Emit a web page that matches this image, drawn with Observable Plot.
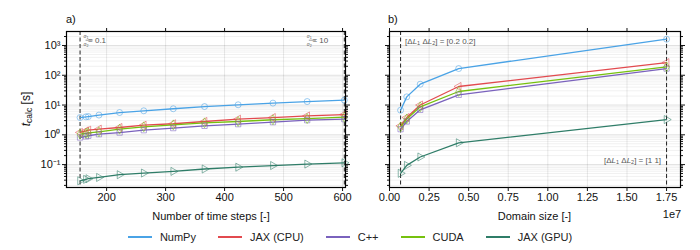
<!DOCTYPE html>
<html>
<head>
<meta charset="utf-8">
<script src="https://cdn.jsdelivr.net/npm/d3@7"></script>
<script src="https://cdn.jsdelivr.net/npm/@observablehq/plot@0.6"></script>
<style>
  html, body { margin: 0; padding: 0; background: #fff; }
  #wrap { position: relative; width: 700px; height: 250px; font-family: "Liberation Sans", Arial, sans-serif; }
  #wrap svg { position: absolute; top: 0; overflow: visible; }
  #legend { position: absolute; left: 0; top: 229px; width: 700px; display: flex; justify-content: center; gap: 22px; font-size: 11px; color: #222; line-height: 16px; }
  .item { display: flex; align-items: center; gap: 8px; }
  .sw { display: inline-block; width: 24px; height: 1.4px; }
</style>
</head>
<body>
<div id="wrap"><div id="legend"></div></div>
<script>
// ---------- data ----------
const seriesNames = ["NumPy", "JAX (CPU)", "C++", "CUDA", "JAX (GPU)"];
const seriesColors = ["#4aa3e6", "#e24a4f", "#7a62bd", "#76c10e", "#2f7d68"];
const seriesSymbols = ["circle", "triangle", "square", "diamond", "triangle"];
const seriesRotate = [0, -90, 0, 0, 90];

// panel a: number of time steps
const timeSteps = [155, 165, 169, 187, 222, 263, 313, 366, 423, 482, 540, 603];
const aNumPy   = [3.8, 4.0, 4.1, 4.6, 5.6, 6.4, 7.5, 8.9, 10.2, 11.6, 13.1, 14.6];
const aJaxCpu  = [1.2, 1.35, 1.43, 1.55, 1.76, 2.1, 2.35, 2.8, 3.35, 3.8, 4.3, 4.8];
const aCpp     = [0.81, 0.88, 0.93, 1.05, 1.19, 1.43, 1.68, 2.0, 2.28, 2.66, 3.1, 3.36];
const aCuda    = [1.05, 1.12, 1.17, 1.26, 1.55, 1.86, 2.16, 2.53, 2.8, 3.2, 3.5, 3.9];
const aJaxGpu  = [0.0286, 0.032, 0.0335, 0.037, 0.0457, 0.052, 0.059, 0.071, 0.082, 0.093, 0.104, 0.115];
const aDashes  = [155, 603];

// panel b: domain size
const domainSizes = [7.0e5, 1.09e6, 1.94e6, 4.37e6, 1.75e7];
const bNumPy   = [6.7, 18.8, 50, 168, 1630];
const bJaxCpu  = [2.0, 3.8, 10, 42, 266];
const bCpp     = [1.55, 2.8, 6.9, 22, 168];
const bCuda    = [1.86, 3.4, 8.7, 28.5, 191];
const bJaxGpu  = [0.051, 0.094, 0.18, 0.54, 3.25];
const bDashes  = [7.0e5, 1.75e7];

const aTicks = [200, 300, 400, 500, 600];
const bTicks = [0, 2.5e6, 5e6, 7.5e6, 1e7, 1.25e7, 1.5e7, 1.75e7];
const yMajor = [0.1, 1, 10, 100, 1000];
const yDomain = [0.017, 2950];

// ---------- helpers ----------
const FONT = '"Liberation Sans", Arial, sans-serif';
const sup = {"-":"⁻","0":"⁰","1":"¹","2":"²","3":"³"};
const yFmt = d => "10" + String(Math.round(Math.log10(d))).split("").map(c => sup[c]).join("");
const yMinor = [];
for (let e = -2; e <= 3; e++) for (let k = 2; k <= 9; k++) {
  const v = k * Math.pow(10, e);
  if (v > yDomain[0] && v < yDomain[1]) yMinor.push(v);
}
function rows(xs, arrays) {
  return arrays.flatMap((vals, i) => xs.map((x, j) => ({name: seriesNames[i], x, y: vals[j], rot: seriesRotate[i]})));
}
const blank = () => "";

function panel({data, xDomain, xTicks, xFormat, dashes, marginLeft, marginRight, showYLabels}) {
  return Plot.plot({
    width: 350, height: 225,
    marginLeft, marginRight, marginTop: 31, marginBottom: 38,
    style: {fontFamily: FONT, fontSize: "11px", color: "#111", background: "transparent", overflow: "visible"},
    x: {domain: xDomain},
    y: {type: "log", domain: yDomain},
    color: {domain: seriesNames, range: seriesColors},
    symbol: {domain: seriesNames, range: seriesSymbols},
    marks: [
      Plot.gridY(yMinor, {stroke: "#000", strokeOpacity: 0.06}),
      Plot.gridY(yMajor, {stroke: "#000", strokeOpacity: 0.12}),
      Plot.gridX(xTicks, {stroke: "#000", strokeOpacity: 0.09}),
      Plot.ruleX(dashes, {stroke: "#222", strokeDasharray: "4,2.5", strokeWidth: 1}),
      Plot.line(data, {x: "x", y: "y", z: "name", stroke: "name", strokeWidth: 1.3}),
      Plot.dot(data, {x: "x", y: "y", stroke: "name", symbol: "name", rotate: "rot", r: 3, strokeWidth: 1, strokeOpacity: 0.55}),
      Plot.frame({stroke: "#000", strokeWidth: 1.2}),
      Plot.axisX({anchor: "bottom", ticks: xTicks, tickFormat: xFormat, tickSize: 4, tickPadding: 2, label: null}),
      Plot.axisX({anchor: "top", ticks: xTicks, tickFormat: blank, tickSize: 4, label: null}),
      Plot.axisY({anchor: "left", ticks: yMajor, tickFormat: showYLabels ? yFmt : blank, tickSize: 4, tickPadding: 2, label: null}),
      Plot.axisY({anchor: "left", ticks: yMinor, tickFormat: blank, tickSize: 2, label: null}),
      Plot.axisY({anchor: "right", ticks: yMajor, tickFormat: blank, tickSize: 4, label: null}),
      Plot.axisY({anchor: "right", ticks: yMinor, tickFormat: blank, tickSize: 2, label: null})
    ]
  });
}

function addText(svg, x, y, str, opts = {}) {
  const t = d3.select(svg).append("text")
    .attr("x", x).attr("y", y)
    .attr("font-family", FONT)
    .attr("font-size", opts.size || 11)
    .attr("fill", opts.fill || "#111")
    .attr("text-anchor", opts.anchor || "start")
    .attr("dominant-baseline", "middle");
  if (opts.transform) t.attr("transform", opts.transform);
  if (str) t.text(str);
  return t;
}
// fraction sigma1/sigma2 = value (numerator and denominator in one text element)
function sigmaNote(svg, x, y, value, anchorEnd) {
  const g = d3.select(svg).append("g").attr("fill", "#555").attr("font-family", FONT);
  const eqW = value.length * 4.5 + 9;
  const fx = anchorEnd ? x - eqW - 12 : x;
  const t = g.append("text").attr("x", fx + 0.5).attr("y", y - 1.6).attr("font-size", 5);
  t.append("tspan").attr("font-style", "italic").text("σ");
  t.append("tspan").attr("font-size", 3.6).attr("dy", 0.6).text("1");
  t.append("tspan").attr("x", fx + 0.5).attr("dy", 7.2).attr("font-style", "italic").text("σ");
  t.append("tspan").attr("font-size", 3.6).attr("dy", 0.6).text("2");
  g.append("line").attr("x1", fx).attr("x2", fx + 7).attr("y1", y + 0.2).attr("y2", y + 0.2).attr("stroke", "#555").attr("stroke-width", 0.6);
  g.append("text").attr("x", fx + 11.5).attr("y", y + 0.8).attr("font-size", 8).attr("dominant-baseline", "middle").text("= " + value);
}
function dlNote(svg, x, y, value, anchor) {
  const t = d3.select(svg).append("text").attr("x", x).attr("y", y)
    .attr("font-family", FONT).attr("font-size", 8).attr("fill", "#555")
    .attr("text-anchor", anchor).attr("dominant-baseline", "middle");
  t.append("tspan").text("[Δ");
  t.append("tspan").attr("font-style", "italic").text("L");
  t.append("tspan").attr("font-size", 5.5).attr("dy", 1.8).text("1");
  t.append("tspan").attr("dy", -1.8).text(" Δ");
  t.append("tspan").attr("font-style", "italic").text("L");
  t.append("tspan").attr("font-size", 5.5).attr("dy", 1.8).text("2");
  t.append("tspan").attr("dy", -1.8).text("] = " + value);
}

// ---------- panel a ----------
const wrap = document.getElementById("wrap");
const plotA = panel({
  data: rows(timeSteps, [aNumPy, aJaxCpu, aCpp, aCuda, aJaxGpu]),
  xDomain: [132, 605], xTicks: aTicks, xFormat: d => String(d),
  dashes: aDashes, marginLeft: 66, marginRight: 5, showYLabels: true
});
plotA.style.left = "0px";
wrap.appendChild(plotA);
addText(plotA, 66, 20, "a)");
addText(plotA, 211, 217, "Number of time steps [-]", {anchor: "middle"});
{
  const t = addText(plotA, 0, 0, "", {anchor: "middle", transform: "translate(27,109) rotate(-90)", size: 12});
  t.append("tspan").attr("font-style", "italic").text("t");
  t.append("tspan").attr("font-size", 8.5).attr("dy", 3).text("calc");
  t.append("tspan").attr("dy", -3).text(" [s]");
}
const xa = plotA.scale("x");
sigmaNote(plotA, xa.apply(aDashes[0]) + 6, 40, "0.1", false);
sigmaNote(plotA, xa.apply(aDashes[1]) - 5, 40, "10", true);

// ---------- panel b ----------
const plotB = panel({
  data: rows(domainSizes, [bNumPy, bJaxCpu, bCpp, bCuda, bJaxGpu]),
  xDomain: [0, 1.838e7], xTicks: bTicks, xFormat: d => (d / 1e7).toFixed(2),
  dashes: bDashes, marginLeft: 39, marginRight: 20, showYLabels: false
});
plotB.style.left = "350px";
wrap.appendChild(plotB);
addText(plotB, 38, 20, "b)");
addText(plotB, 184.5, 217, "Domain size [-]", {anchor: "middle"});
addText(plotB, 322, 215, "1e7", {anchor: "middle"});
const xb = plotB.scale("x");
dlNote(plotB, xb.apply(bDashes[0]) + 5, 42, "[0.2 0.2]", "start");
dlNote(plotB, xb.apply(bDashes[1]) - 5, 161, "[1 1]", "end");

// ---------- legend ----------
const legend = document.getElementById("legend");
seriesNames.forEach((n, i) => {
  const it = document.createElement("div");
  it.className = "item";
  const sw = document.createElement("span");
  sw.className = "sw";
  sw.style.background = seriesColors[i];
  const lab = document.createElement("span");
  lab.textContent = n;
  it.appendChild(sw); it.appendChild(lab);
  legend.appendChild(it);
});
</script>
</body>
</html>
